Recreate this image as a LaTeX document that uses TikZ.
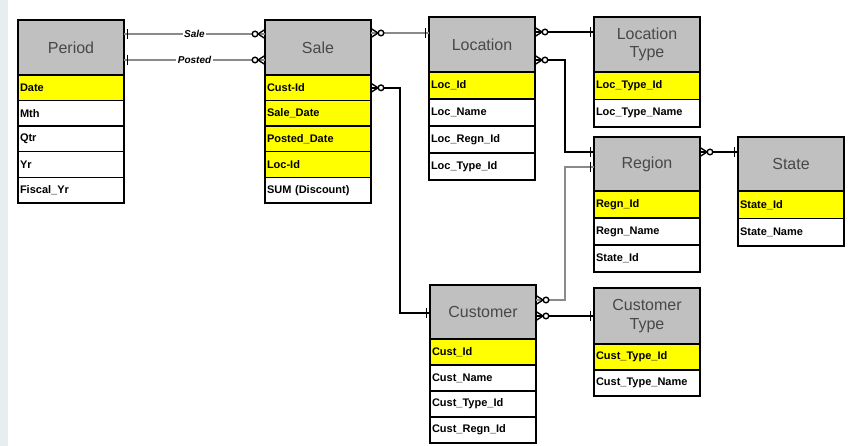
\documentclass[tikz,border=0pt]{standalone}
\usepackage{fontspec}
\setmainfont{Liberation Sans}
\definecolor{hdrgray}{HTML}{C0C0C0}
\definecolor{hdrtext}{HTML}{484848}
\definecolor{keyyellow}{HTML}{FFFF00}
\definecolor{linkgray}{HTML}{8A8A8A}
\definecolor{stripe}{HTML}{E8EEF0}
\tikzset{
  hdr/.style={draw=black, line width=1.4pt, fill=hdrgray, anchor=north west,
    minimum width=106pt, minimum height=#1, inner sep=0pt, outer sep=0pt,
    align=center, text=hdrtext, font=\fontsize{16}{18.5}\selectfont},
  fld/.style={draw=black, line width=1.4pt, fill=white, anchor=north west,
    text width=102pt, minimum height=#1, inner xsep=2pt, inner ysep=0pt,
    outer sep=0pt, align=left, font=\bfseries\fontsize{11}{12}\selectfont},
  keyfld/.style={fld=#1, fill=keyyellow},
  link/.style={line width=1.7pt, black},
  glink/.style={line width=1.9pt, linkgray},
  rellabel/.style={fill=white, text=black, inner sep=1.5pt, font=\bfseries\itshape\fontsize{10}{11}\selectfont},
  % zero-or-many end: prongs on the box edge, circle outside
  zmany/.pic={
    \draw[line width=1.4pt, black] (0,-4.5) -- (7,0) -- (0,4.5);
    \draw[line width=1.4pt, black, fill=white] (10,0) circle (2.8);
  },
  % exactly-one end: short bar just off the box edge
  onebar/.pic={
    \draw[line width=1.4pt] (-3.5,-5) -- (-3.5,5);
  },
}
\begin{document}
\begin{tikzpicture}[x=1pt, y=-1pt]
\useasboundingbox (0,0) rectangle (857,446);
\fill[stripe] (0,0) rectangle (8,446);

% Period
\node[hdr=55pt] (period) at (18,20) {Period};
\node[keyfld=25.6pt] (p1) at (period.south west) {Date};
\node[fld=25.6pt] (p2) at (p1.south west) {Mth};
\node[fld=25.6pt] (p3) at (p2.south west) {Qtr};
\node[fld=25.6pt] (p4) at (p3.south west) {Yr};
\node[fld=25.6pt] (p5) at (p4.south west) {Fiscal\_Yr};

% Sale
\node[hdr=55pt] (sale) at (265,20) {Sale};
\node[keyfld=25.6pt] (s1) at (sale.south west) {Cust-Id};
\node[keyfld=25.6pt] (s2) at (s1.south west) {Sale\_Date};
\node[keyfld=25.6pt] (s3) at (s2.south west) {Posted\_Date};
\node[keyfld=25.6pt] (s4) at (s3.south west) {Loc-Id};
\node[fld=25.6pt] (s5) at (s4.south west) {SUM (Discount)};

% Location
\node[hdr=55pt] (loc) at (429,17) {Location};
\node[keyfld=27pt] (l1) at (loc.south west) {Loc\_Id};
\node[fld=27pt] (l2) at (l1.south west) {Loc\_Name};
\node[fld=27pt] (l3) at (l2.south west) {Loc\_Regn\_Id};
\node[fld=27pt] (l4) at (l3.south west) {Loc\_Type\_Id};

% Location Type
\node[hdr=55pt] (ltype) at (594,17) {Location\\Type};
\node[keyfld=27.5pt] (lt1) at (ltype.south west) {Loc\_Type\_Id};
\node[fld=27.5pt] (lt2) at (lt1.south west) {Loc\_Type\_Name};

% Region
\node[hdr=54pt] (region) at (594,137) {Region};
\node[keyfld=27pt] (r1) at (region.south west) {Regn\_Id};
\node[fld=27pt] (r2) at (r1.south west) {Regn\_Name};
\node[fld=27pt] (r3) at (r2.south west) {State\_Id};

% State
\node[hdr=54pt] (state) at (738,137) {State};
\node[keyfld=27.5pt] (st1) at (state.south west) {State\_Id};
\node[fld=27.5pt] (st2) at (st1.south west) {State\_Name};

% Customer
\node[hdr=54pt] (cust) at (430,285) {Customer};
\node[keyfld=26pt] (c1) at (cust.south west) {Cust\_Id};
\node[fld=26pt] (c2) at (c1.south west) {Cust\_Name};
\node[fld=26pt] (c3) at (c2.south west) {Cust\_Type\_Id};
\node[fld=26pt] (c4) at (c3.south west) {Cust\_Regn\_Id};

% Customer Type
\node[hdr=56pt] (ctype) at (594,288) {Customer\\Type};
\node[keyfld=26pt] (ct1) at (ctype.south west) {Cust\_Type\_Id};
\node[fld=26pt] (ct2) at (ct1.south west) {Cust\_Type\_Name};

% attachment points on the table edges
\coordinate (perA) at ([yshift=-14pt]period.north east);
\coordinate (perB) at ([yshift=-40pt]period.north east);
\coordinate (salA) at ([yshift=-14pt]sale.north west);
\coordinate (salB) at ([yshift=-40pt]sale.north west);
\coordinate (salC) at ([yshift=-13pt]sale.north east);
\coordinate (locW) at ([yshift=-16pt]loc.north west);
\coordinate (locA) at ([yshift=-15pt]loc.north east);
\coordinate (locB) at ([yshift=-43pt]loc.north east);
\coordinate (ltW)  at ([yshift=-15pt]ltype.north west);
\coordinate (regA) at ([yshift=-15pt]region.north west);
\coordinate (regB) at ([yshift=-30pt]region.north west);
\coordinate (regE) at ([yshift=-15pt]region.north east);
\coordinate (stW)  at ([yshift=-15pt]state.north west);
\coordinate (cusW) at ([yshift=-28pt]cust.north west);
\coordinate (cusA) at ([yshift=-15pt]cust.north east);
\coordinate (cusB) at ([yshift=-31pt]cust.north east);
\coordinate (ctW)  at ([yshift=-28pt]ctype.north west);
\coordinate (sc) at (400,0);
\coordinate (lr) at (565,0);

% Period -- Sale (two roles)
\draw[glink] (perA) -- node[rellabel] {Sale} (salA);
\draw[glink] (perB) -- node[rellabel] {Posted} (salB);
\pic[xscale=-1] at (perA) {onebar};
\pic[xscale=-1] at (perB) {onebar};
\pic[xscale=-1] at (salA) {zmany};
\pic[xscale=-1] at (salB) {zmany};

% Sale -- Location
\draw[glink] (salC) -- (locW);
\pic at (salC) {zmany};
\pic at (locW) {onebar};

% Sale -- Customer
\draw[link] (s1.east) -| (sc |- cusW) -- (cusW);
\pic at (s1.east) {zmany};
\pic at (cusW) {onebar};

% Location -- Location Type
\draw[link] (locA) -- (ltW);
\pic at (locA) {zmany};
\pic at (ltW) {onebar};

% Location -- Region
\draw[link] (locB) -| (lr |- regA) -- (regA);
\pic at (locB) {zmany};
\pic at (regA) {onebar};

% Region -- State
\draw[link] (regE) -- (stW);
\pic at (regE) {zmany};
\pic at (stW) {onebar};

% Customer -- Region
\draw[glink] (cusA) -| (lr |- regB) -- (regB);
\pic at (cusA) {zmany};
\pic at (regB) {onebar};

% Customer -- Customer Type
\draw[link] (cusB) -- (ctW);
\pic at (cusB) {zmany};
\pic at (ctW) {onebar};
\end{tikzpicture}
\end{document}
